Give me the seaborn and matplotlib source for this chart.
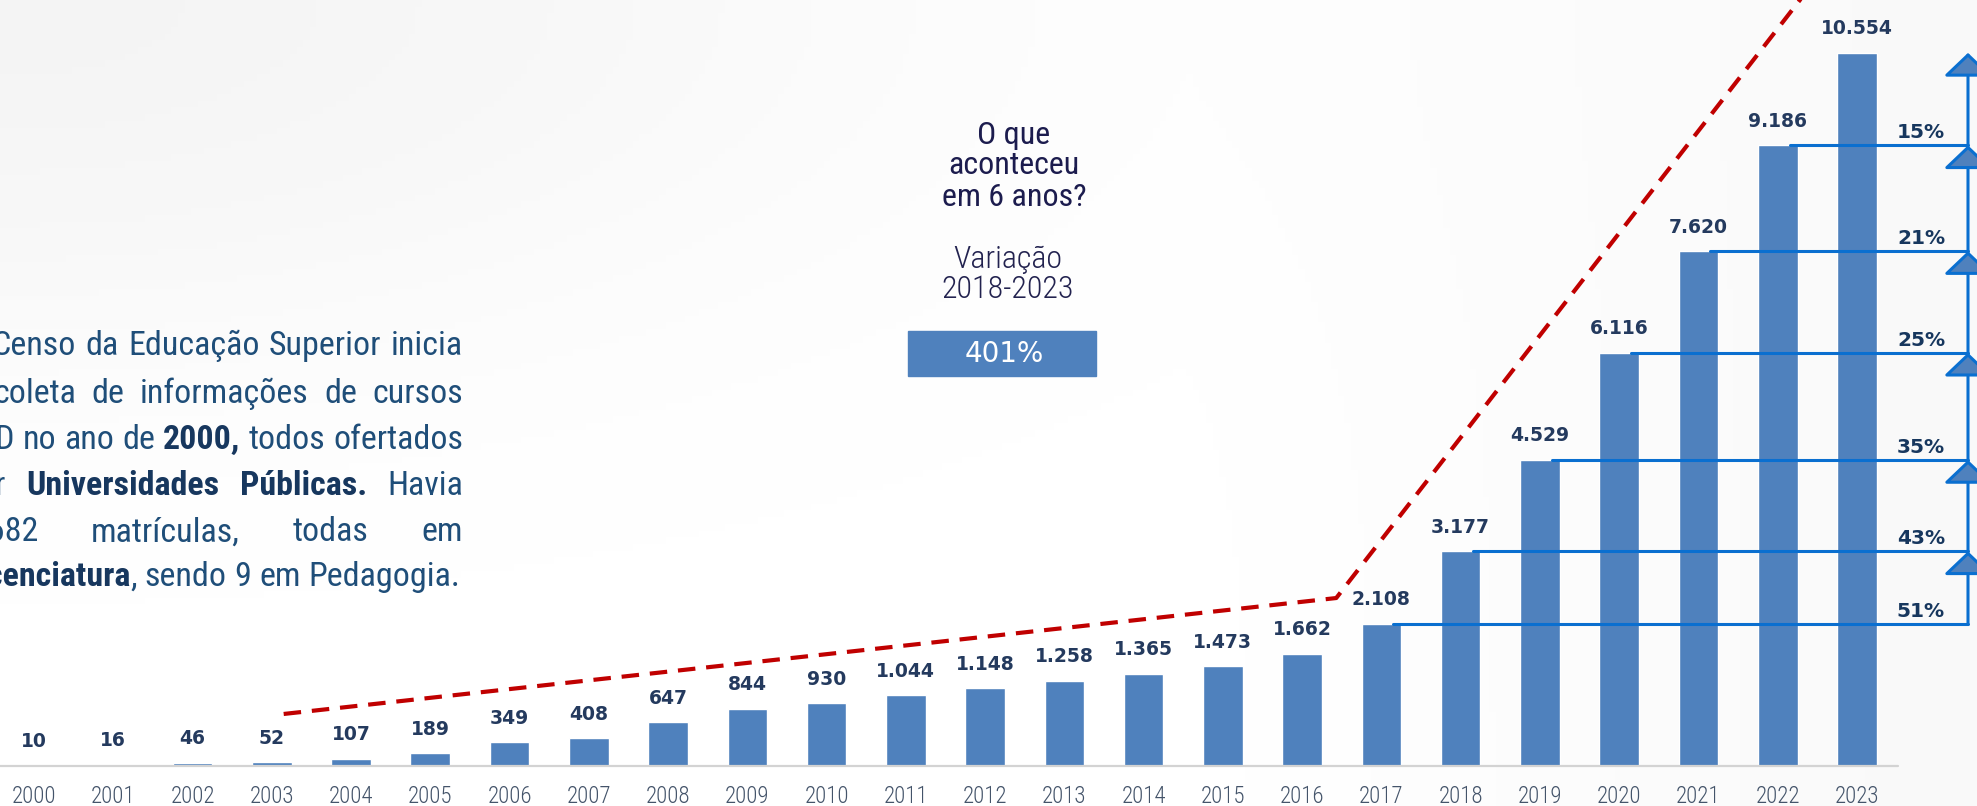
import numpy as np
import matplotlib
matplotlib.use('Agg')
import matplotlib.pyplot as plt
import seaborn as sns
from matplotlib import font_manager as fm
from matplotlib.patches import Rectangle

# %% dados
anos = [str(a) for a in range(2000, 2024)]
matriculas = [10, 16, 46, 52, 107, 189, 349, 408, 647, 844, 930, 1044,
              1148, 1258, 1365, 1473, 1662, 2108, 3177, 4529, 6116, 7620,
              9186, 10554]

# crescimento ano a ano (2017 -> 2023)
anos_cresc = ['2017', '2018', '2019', '2020', '2021', '2022']
pct_cresc = [51, 43, 35, 25, 21, 15]

# linha de tendencia tracejada (ano, valor)
tend_anos = [2003.15, 2016.43, 2022.5]
tend_vals = [770, 2486, 11670]

variacao = '401%'

texto_intro = [
    'O Censo da Educação Superior inicia',
    'a coleta de informações de cursos',
    'EaD no ano de **2000,** todos ofertados',
    'por **Universidades** **Públicas.** Havia',
    '1.682 matrículas, todas em',
    '**Licenciatura**, sendo 9 em Pedagogia.',
]

# %% estilo
sns.set_style('white')
plt.rcParams['font.family'] = ['DejaVu Sans']

# fonte condensada: procura o que houver instalado
nomes = {f.name for f in fm.fontManager.ttflist}
narrow = None
for c in ['Liberation Sans Narrow', 'Roboto Condensed', 'Noto Sans Condensed',
          'Open Sans Condensed', 'Arial Narrow', 'DejaVu Sans Condensed']:
    if c in nomes:
        narrow = dict(family=c)
        break
if narrow is None:
    for fam in ['Roboto', 'Noto Sans', 'Open Sans', 'DejaVu Sans']:
        cond = [f for f in fm.fontManager.ttflist
                if f.name == fam and str(f.stretch) in ('condensed', 'semi-condensed', 'extra-condensed')]
        if cond:
            narrow = dict(family=fam, stretch=cond[0].stretch)
            break
achou_narrow = narrow is not None
if narrow is None:
    narrow = dict(family='DejaVu Sans')

W, H = 1977, 806
fig = plt.figure(figsize=(W / 100, H / 100), dpi=100)
fig.patch.set_facecolor('white')

# fundo levemente acinzentado
bg = fig.add_axes([0, 0, 1, 1], zorder=-1)
xx, yy = np.meshgrid(np.linspace(0, 1, 300), np.linspace(0, 1, 120))
grad = 0.09 * np.exp(-(xx ** 2 + yy ** 2) / 0.18) + 0.05 * np.clip(xx - 0.6, 0, 1) / 0.4
bg.imshow(grad, extent=[0, 1, 0, 1], aspect='auto', cmap='Greys', vmin=0, vmax=1)
bg.axis('off')

ax = fig.add_axes([0, 40 / H, 1, 766 / H])
ax.set_facecolor('none')

sns.barplot(x=anos, y=matriculas, color='#4f81bd', saturation=1, width=0.5, ax=ax)

ax.set_xlim(-34 / 79.26, (W - 34) / 79.26)
ax.set_ylim(0, 766 * 14.8)
sns.despine(ax=ax, left=True, bottom=True)
ax.set_yticks([])
ax.set_xlabel('')
ax.set_ylabel('')
ax.plot([-0.43, 23.52], [0, 0], color='#d3d3d3', lw=1.6, clip_on=False)
ax.tick_params(axis='x', length=0, pad=14, labelsize=16.5 if achou_narrow else 12.5,
               labelcolor='#44546a')
for lbl in ax.get_xticklabels():
    lbl.set_fontfamily(narrow['family'])
    lbl.set_fontweight('light')
    if 'stretch' in narrow:
        lbl.set_fontstretch(narrow['stretch'])

fmt = lambda v: f'{v:,}'.replace(',', '.')
for i, v in enumerate(matriculas):
    ax.annotate(fmt(v), (i, v), xytext=(0, 17.3), textcoords='offset points',
                ha='center', va='center', fontsize=13.5, fontweight='bold',
                color='#243a5e')

# linha tracejada vermelha
ax.plot([a - 2000 for a in tend_anos], tend_vals, color='#c00000', lw=3,
        ls=(0, (4.2, 2.6)), clip_on=True)

# setas de crescimento
x_dir = (1968 - 34) / 79.26
x_lbl = (1921 - 34) / 79.26
for ano, p in zip(anos_cresc, pct_cresc):
    i = anos.index(ano)
    v0, v1 = matriculas[i], matriculas[i + 1]
    ax.plot([i + 0.15, x_dir], [v0, v0], color='#0a6fd0', lw=2.2, clip_on=False)
    ax.annotate('', xy=(x_dir, v1), xytext=(x_dir, v0),
                arrowprops=dict(arrowstyle='-|>,head_length=1.0,head_width=1.05',
                                mutation_scale=14.5, lw=2.2, fc='#4f81bd',
                                ec='#0a6fd0', shrinkA=0, shrinkB=0),
                annotation_clip=False)
    ax.annotate(f'{p}%', (x_lbl, v0), xytext=(0, 9), textcoords='offset points',
                ha='center', va='center', fontsize=14.5, fontweight='bold',
                color='#17375e')

# bloco central
def ftext(px, py, s, **kw):
    return fig.text(px / W, 1 - py / H, s, **kw)

fs_c = 23 if achou_narrow else 17
for s, py in zip(['O que', 'aconteceu', 'em 6 anos?'], [135, 166, 197]):
    ftext(1014, py, s, ha='center', va='center', fontsize=fs_c, color='#1c1c4e', **narrow)
for s, py in zip(['Variação', '2018-2023'], [259, 290]):
    ftext(1008, py, s, ha='center', va='center', fontsize=fs_c, color='#22224f',
          weight='light', **narrow)
fig.patches.append(Rectangle((908 / W, 1 - 376 / H), 188 / W, 45 / H,
                             transform=fig.transFigure, color='#4f81bd'))
ftext(1004, 354, variacao, ha='center', va='center', fontsize=20, color='white')

# texto justificado da esquerda
renderer = fig.canvas.get_renderer()


def seg_props(bold, fs):
    return dict(fontsize=fs, weight='bold' if bold else 'normal',
                color='#17375e' if bold else '#1f4e79', **narrow)


def largura(s, bold, fs):
    t = fig.text(0, 0, s, **seg_props(bold, fs))
    w = t.get_window_extent(renderer).width
    t.remove()
    return w


L, R = -38, 463
centros = [343, 391, 437, 483, 529, 574]


def montar(fs):
    esp = largura('a a', False, fs) - largura('aa', False, fs)
    linhas = []
    for k, linha in enumerate(texto_intro):
        palavras = []
        for w in linha.split(' '):
            segs = [(s, j % 2 == 1) for j, s in enumerate(w.split('**')) if s]
            palavras.append([(s, b, largura(s, b, fs)) for s, b in segs])
        tot = sum(sum(x[2] for x in p) for p in palavras)
        if k < len(texto_intro) - 1:
            gap = (R - L - tot) / (len(palavras) - 1)
        else:
            gap = esp
        linhas.append((palavras, gap))
    ok = all(g >= 0.8 * esp for _, g in linhas[:-1])
    return linhas, ok


FS = 25
linhas, ok = montar(FS)
while not ok and FS > 12:
    FS -= 0.5
    linhas, ok = montar(FS)

for (palavras, gap), cy in zip(linhas, centros):
    x = L
    for p in palavras:
        for s, b, w in p:
            ftext(x, cy + FS * 0.5, s, ha='left', va='baseline', **seg_props(b, FS))
            x += w
        x += gap

fig.savefig('out.png', dpi=100)
